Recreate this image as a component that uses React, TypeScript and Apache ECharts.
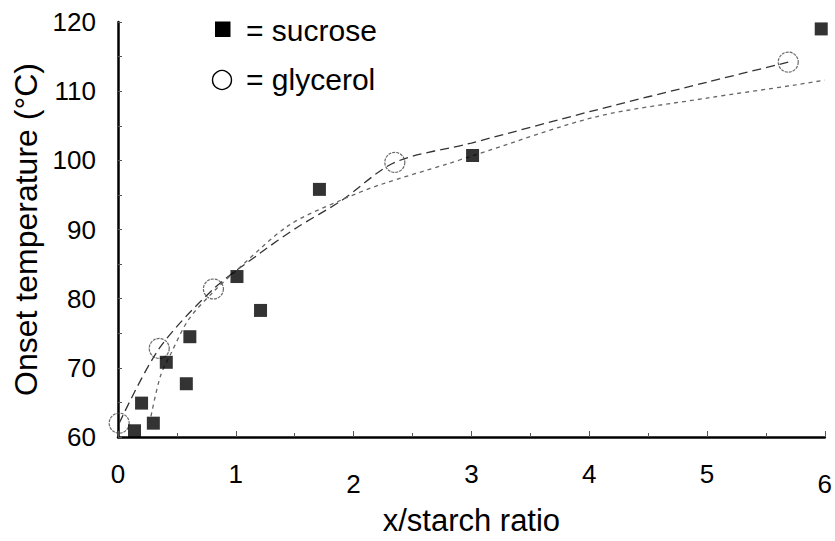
import React, { useEffect, useRef } from "react";
import * as echarts from "echarts";

const sucroseX = [0.14, 0.2, 0.3, 0.41, 0.61, 0.58, 1.21, 1.01, 1.71, 3.01, 5.97];
const sucroseY = [60.9, 64.9, 62.0, 70.8, 74.5, 67.7, 78.3, 83.2, 95.8, 100.7, 119.0];

const glycerolX = [0.01, 0.35, 0.81, 2.35, 5.69];
const glycerolY = [62.0, 72.8, 81.4, 99.7, 114.2];

const glycerolFitX = [0.01, 0.35, 0.81, 1.2, 1.52, 1.89, 2.35, 3.0, 4.04, 5.0, 5.69];
const glycerolFitY = [62.0, 72.8, 81.4, 86.5, 90.3, 94.1, 99.7, 102.5, 107.2, 111.3, 114.2];

const sucroseFitX = [0.28, 0.36, 0.45, 0.6, 0.81, 1.0, 1.45, 1.9, 2.23, 2.8, 3.0, 4.06, 5.0, 5.75, 6.0];
const sucroseFitY = [63.0, 68.8, 72.1, 77.0, 81.0, 84.0, 90.6, 94.3, 96.5, 99.5, 100.6, 106.3, 109.0, 110.9, 111.6];

const xTicks = [0, 1, 2, 3, 4, 5, 6];
const lowXLabels = [2, 6];
const yTicks = [60, 70, 80, 90, 100, 110, 120];

const xAxisTitle = "x/starch ratio";
const yAxisTitle = "Onset temperature (°C)";
const legendNames = ["= sucrose", "= glycerol"];

const FONT = "'Liberation Sans', Arial, sans-serif";

const zip = (xs: number[], ys: number[]) => xs.map((x, i) => [x, ys[i]]);

export default function App() {
  const ref = useRef<HTMLDivElement>(null);
  useEffect(() => {
    document.body.style.margin = "0";
    if (!ref.current) return;
    const chart = echarts.init(ref.current, null, { renderer: "svg" });
    chart.setOption({
      animation: false,
      backgroundColor: "#fff",
      textStyle: { fontFamily: FONT },
      grid: { left: 118, right: 2, top: 22, bottom: 100, containLabel: false },
      xAxis: {
        type: "value",
        min: xTicks[0],
        max: xTicks[xTicks.length - 1],
        interval: 1,
        name: xAxisTitle,
        nameLocation: "middle",
        nameGap: 68,
        nameTextStyle: { fontSize: 31, color: "#000", fontFamily: FONT },
        axisLine: { show: true, lineStyle: { color: "#000", width: 2.5 } },
        axisTick: { show: true, inside: true, length: 6, lineStyle: { color: "#555", width: 1 } },
        minorTick: { show: true, splitNumber: 2, length: 4, lineStyle: { color: "#555", width: 1 } },
        splitLine: { show: false },
        axisLabel: {
          margin: 24,
          color: "#000",
          fontSize: 26,
          fontFamily: FONT,
          formatter: (v: number) => (lowXLabels.includes(v) ? `{low|${v}}` : `{n|${v}}`),
          rich: {
            n: { fontSize: 26, fontFamily: FONT, color: "#000" },
            low: { fontSize: 26, fontFamily: FONT, color: "#000", padding: [10, 0, 0, 0] },
          },
        },
      },
      yAxis: {
        type: "value",
        min: yTicks[0],
        max: yTicks[yTicks.length - 1],
        interval: 10,
        name: yAxisTitle,
        nameLocation: "middle",
        nameGap: 76,
        nameTextStyle: { fontSize: 32, color: "#000", fontFamily: FONT },
        axisLine: { show: true, lineStyle: { color: "#000", width: 2.5 } },
        axisTick: { show: true, inside: true, length: 4, lineStyle: { color: "#555", width: 1 } },
        minorTick: { show: true, splitNumber: 2, length: 4, lineStyle: { color: "#555", width: 1 } },
        splitLine: { show: false },
        axisLabel: { margin: 22, color: "#000", fontSize: 26, fontFamily: FONT },
      },
      graphic: [
        { type: "rect", shape: { x: 215, y: 21.5, width: 15.5, height: 15.5 }, style: { fill: "#000" } },
        {
          type: "text",
          x: 246,
          y: 30,
          style: { text: legendNames[0], fontSize: 30, fontFamily: FONT, fill: "#000", verticalAlign: "middle" },
        },
        { type: "circle", shape: { cx: 222, cy: 80, r: 9.5 }, style: { fill: "#fff", stroke: "#000", lineWidth: 1.4 } },
        {
          type: "text",
          x: 246,
          y: 79,
          style: { text: legendNames[1], fontSize: 30, fontFamily: FONT, fill: "#000", verticalAlign: "middle" },
        },
      ],
      series: [
        {
          type: "line",
          name: "glycerol fit",
          data: zip(glycerolFitX, glycerolFitY),
          smooth: 0.3,
          symbol: "none",
          lineStyle: { color: "#333", width: 1.3, type: [9, 5] },
          z: 2,
        },
        {
          type: "line",
          name: "sucrose fit",
          data: zip(sucroseFitX, sucroseFitY),
          smooth: 0.3,
          symbol: "none",
          lineStyle: { color: "#666", width: 1.3, type: [4, 4] },
          z: 2,
        },
        {
          type: "scatter",
          name: "glycerol",
          data: zip(glycerolX, glycerolY),
          symbol: "circle",
          symbolSize: 20,
          itemStyle: { color: "rgba(255,255,255,0)", borderColor: "#444", borderWidth: 1.2, borderType: [3, 1] },
          z: 3,
        },
        {
          type: "scatter",
          name: "sucrose",
          data: zip(sucroseX, sucroseY),
          symbol: "rect",
          symbolSize: 13,
          itemStyle: { color: "#000" },
          z: 4,
        },
      ],
    });
    return () => chart.dispose();
  }, []);
  return <div ref={ref} style={{ width: 835, height: 541 }} />;
}
